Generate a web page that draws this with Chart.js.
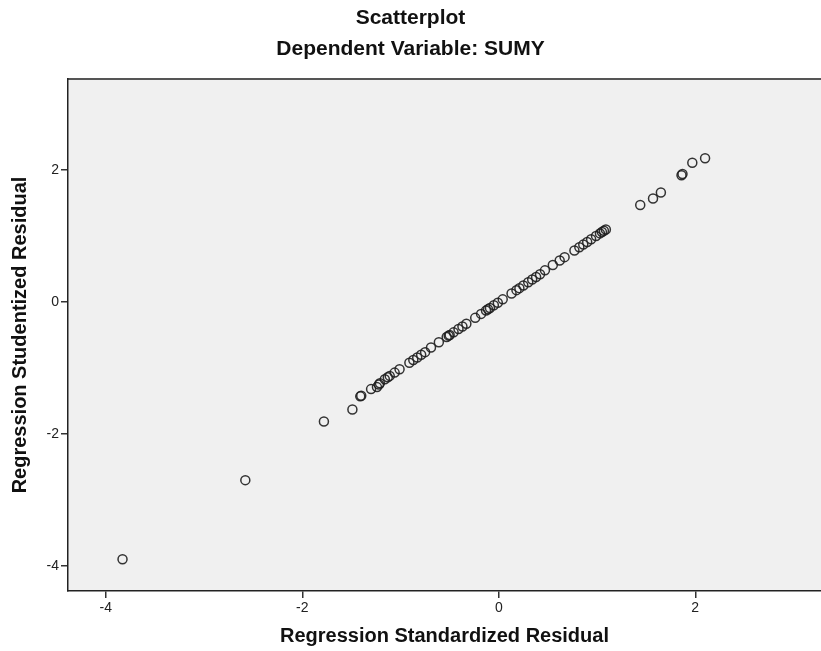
<!DOCTYPE html>
<html>
<head>
<meta charset="utf-8">
<script src="https://cdn.jsdelivr.net/npm/chart.js@4/dist/chart.umd.min.js"></script>
<style>
  html, body { margin: 0; padding: 0; background: #ffffff; }
  #wrap { width: 821px; height: 651px; }
</style>
</head>
<body>
<div id="wrap"><canvas id="c" width="821" height="651"></canvas></div>
<script>
const chartTitle = 'Scatterplot';
const chartSubtitle = 'Dependent Variable: SUMY';
const xAxisTitle = 'Regression Standardized Residual';
const yAxisTitle = 'Regression Studentized Residual';

const xTicks = [-4, -2, 0, 2];
const yTicks = [-4, -2, 0, 2];

const standardizedResidual = [
  -3.83, -2.58, -1.78, -1.49, -1.41, -1.40, -1.30, -1.24, -1.22, -1.21, -1.13,
  -1.16, -1.11, -1.06, -1.01,
  -0.91, -0.87, -0.83, -0.79, -0.75,
  -0.69, -0.61,
  -0.53, -0.51, -0.50, -0.46, -0.41, -0.37, -0.33,
  -0.24,
  -0.18, -0.13, -0.11, -0.09, -0.05, -0.01,
  0.04,
  0.13, 0.18, 0.21, 0.25, 0.30, 0.34, 0.38, 0.42, 0.47,
  0.55, 0.62, 0.67,
  0.77, 0.82, 0.86, 0.90, 0.94, 0.99, 1.03, 1.05, 1.07, 1.09,
  1.44, 1.57, 1.65, 1.86, 1.87, 1.97, 2.10
];
const studentizedResidual = [
  -3.90, -2.70, -1.81, -1.63, -1.43, -1.42, -1.32, -1.29, -1.25, -1.23, -1.14,
  -1.17, -1.12, -1.07, -1.02,
  -0.92, -0.88, -0.84, -0.80, -0.76,
  -0.69, -0.61,
  -0.53, -0.51, -0.50, -0.46, -0.41, -0.37, -0.33,
  -0.24,
  -0.18, -0.13, -0.11, -0.09, -0.05, -0.01,
  0.04,
  0.13, 0.18, 0.21, 0.25, 0.30, 0.34, 0.38, 0.42, 0.48,
  0.56, 0.63, 0.68,
  0.78, 0.83, 0.87, 0.91, 0.95, 1.00, 1.04, 1.06, 1.08, 1.10,
  1.47, 1.57, 1.66, 1.92, 1.94, 2.11, 2.18
];

const points = standardizedResidual.map((x, i) => ({ x: x, y: studentizedResidual[i] }));

const FONT = "'Liberation Sans', Arial, 'DejaVu Sans', sans-serif";

const plotBg = {
  id: 'plotBg',
  beforeDraw(chart) {
    const { ctx, chartArea: a } = chart;
    ctx.save();
    ctx.fillStyle = '#f0f0f0';
    ctx.fillRect(a.left, a.top, a.right - a.left, a.bottom - a.top);
    ctx.strokeStyle = '#555555';
    ctx.lineWidth = 2;
    ctx.beginPath();
    ctx.moveTo(a.left, a.top);
    ctx.lineTo(a.right, a.top);
    ctx.stroke();
    ctx.restore();
  }
};

new Chart(document.getElementById('c'), {
  type: 'scatter',
  data: {
    datasets: [{
      data: points,
      pointRadius: 4.5,
      pointHoverRadius: 4.5,
      pointBorderWidth: 1.5,
      borderColor: 'rgba(30,30,30,0.9)',
      backgroundColor: 'rgba(0,0,0,0)',
      pointBackgroundColor: 'rgba(0,0,0,0)'
    }]
  },
  options: {
    responsive: false,
    animation: false,
    layout: { autoPadding: false, padding: { left: 0, right: 0, top: 0, bottom: 0 } },
    plugins: {
      legend: { display: false },
      tooltip: { enabled: false },
      title: {
        display: true,
        text: chartTitle,
        color: '#111111',
        font: { family: FONT, size: 21, weight: 'bold' },
        padding: { top: 6, bottom: 5.2 }
      },
      subtitle: {
        display: true,
        text: chartSubtitle,
        color: '#111111',
        font: { family: FONT, size: 21, weight: 'bold' },
        padding: { top: 0, bottom: 17.4 }
      }
    },
    scales: {
      x: {
        type: 'linear',
        position: 'bottom',
        min: -4.385,
        max: 3.28,
        afterBuildTicks: s => { s.ticks = xTicks.map(v => ({ value: v })); },
        afterFit: s => { s.height = 60; s.paddingLeft = 0; s.paddingRight = 0; },
        grid: { drawOnChartArea: false, drawTicks: true, tickLength: 7, color: '#333333', lineWidth: 1.5 },
        border: { display: true, color: '#222222', width: 1.5 },
        ticks: { color: '#222222', font: { family: FONT, size: 14 }, padding: 2, maxRotation: 0 },
        title: {
          display: true,
          text: xAxisTitle,
          color: '#111111',
          font: { family: FONT, size: 20, weight: 'bold' },
          padding: { top: 0, bottom: 3 }
        }
      },
      y: {
        type: 'linear',
        position: 'left',
        min: -4.38,
        max: 3.38,
        afterBuildTicks: s => { s.ticks = yTicks.map(v => ({ value: v })); },
        afterFit: s => { s.width = 68; s.paddingTop = 0; s.paddingBottom = 0; },
        grid: { drawOnChartArea: false, drawTicks: true, tickLength: 7, color: '#333333', lineWidth: 1.5 },
        border: { display: true, color: '#222222', width: 1.5 },
        ticks: { color: '#222222', font: { family: FONT, size: 14 }, padding: 2 },
        title: {
          display: true,
          text: yAxisTitle,
          color: '#111111',
          font: { family: FONT, size: 20, weight: 'bold' },
          padding: { top: 8, bottom: 0 }
        }
      }
    }
  },
  plugins: [plotBg]
});
</script>
</body>
</html>
